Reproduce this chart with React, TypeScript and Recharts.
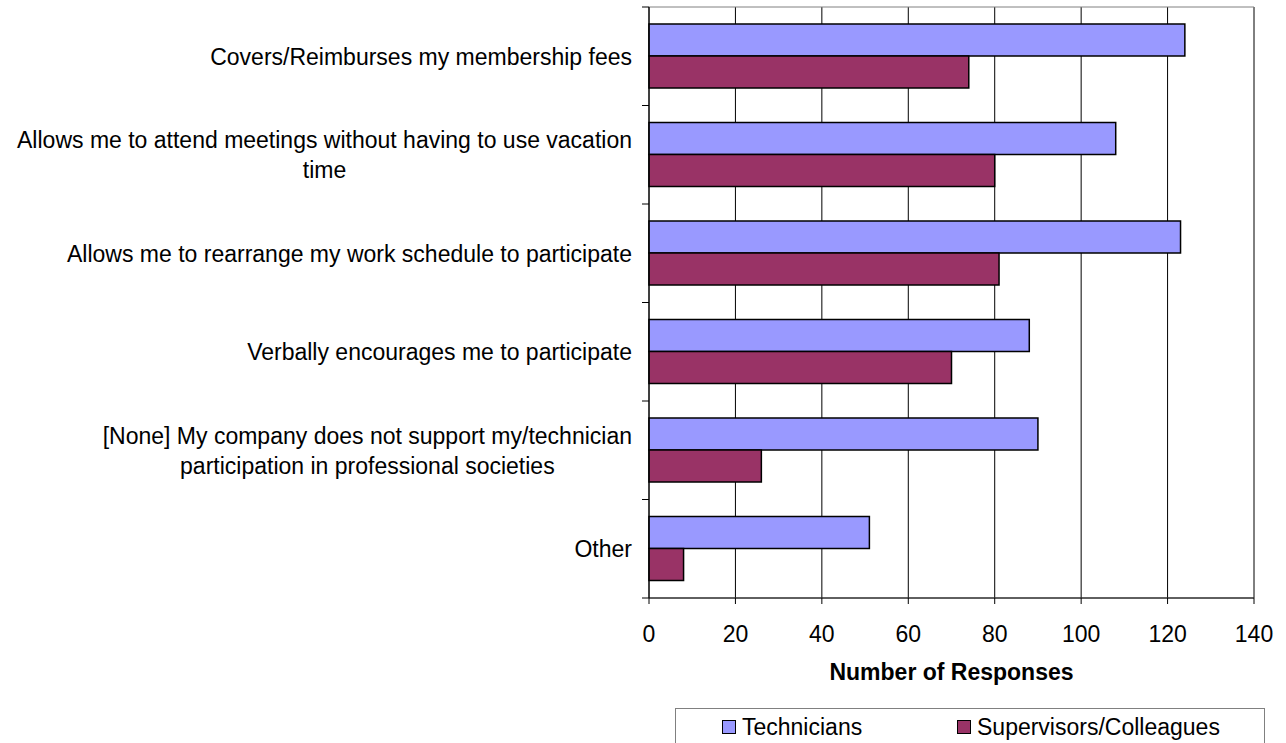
import { Bar, BarChart, CartesianGrid, Legend, ReferenceArea, XAxis, YAxis } from 'recharts';

const categories = [
  'Covers/Reimburses my membership fees',
  'Allows me to attend meetings without having to use vacation time',
  'Allows me to rearrange my work schedule to participate',
  'Verbally encourages me to participate',
  '[None] My company does not support my/technician participation in professional societies',
  'Other',
];
const technicians = [124, 108, 123, 88, 90, 51];
const supervisors = [74, 80, 81, 70, 26, 8];
const xTicks = [0, 20, 40, 60, 80, 100, 120, 140];

const data = categories.map((name, i) => ({
  name,
  technicians: technicians[i],
  supervisors: supervisors[i],
}));

const FONT = '"Liberation Sans", Arial, sans-serif';
const FONT_SIZE = 23;
const W = 1286;
const H = 743;
const MARGIN = { top: 7, right: 32, bottom: 0, left: 0 };
const X_AXIS_H = 145;
const Y_AXIS_W = 649;
const BAND = (H - MARGIN.top - MARGIN.bottom - X_AXIS_H) / categories.length;

let ctx: CanvasRenderingContext2D | null = null;
function measure(text: string) {
  if (!ctx) ctx = document.createElement('canvas').getContext('2d');
  if (!ctx) return text.length * FONT_SIZE * 0.5;
  ctx.font = `${FONT_SIZE}px ${FONT}`;
  return ctx.measureText(text).width;
}

function wrap(text: string, maxW: number) {
  const words = text.split(' ');
  const lines: string[] = [];
  let cur = '';
  for (const w of words) {
    const next = cur ? cur + ' ' + w : w;
    if (cur && measure(next) > maxW) {
      lines.push(cur);
      cur = w;
    } else cur = next;
  }
  if (cur) lines.push(cur);
  return lines;
}

function CategoryTick(props: any) {
  const { x, y, payload, index } = props;
  const lines = wrap(String(payload.value), 626);
  const widest = Math.max(...lines.map(measure));
  const right = x - 9;
  const cx = right - widest / 2;
  const lh = 30;
  const top = y - ((lines.length - 1) * lh) / 2;
  return (
    <g>
      <line x1={x + 1} x2={x + 8} y1={y - BAND / 2} y2={y - BAND / 2} stroke="#000" />
      {index === categories.length - 1 && (
        <line x1={x + 1} x2={x + 8} y1={y + BAND / 2} y2={y + BAND / 2} stroke="#000" />
      )}
      <text textAnchor="middle" fontFamily={FONT} fontSize={FONT_SIZE} fill="#000">
        {lines.map((l, i) => (
          <tspan key={i} x={cx} y={top + i * lh} dy="0.36em">
            {l}
          </tspan>
        ))}
      </text>
    </g>
  );
}

function LegendBox() {
  const items = [
    { label: 'Technicians', color: '#9999FF', width: 235 },
    { label: 'Supervisors/Colleagues', color: '#993366', width: 300 },
  ];
  return (
    <div
      style={{
        border: '1px solid #808080',
        height: 50,
        boxSizing: 'border-box',
        paddingLeft: 46,
        display: 'flex',
        alignItems: 'flex-start',
        fontFamily: FONT,
        fontSize: FONT_SIZE,
        color: '#000',
        background: '#fff',
      }}
    >
      {items.map((it) => (
        <div
          key={it.label}
          style={{ width: it.width, height: 36, display: 'flex', alignItems: 'center', whiteSpace: 'nowrap' }}
        >
          <span
            style={{
              display: 'inline-block',
              width: 12,
              height: 12,
              background: it.color,
              border: '1.5px solid #000',
              marginRight: 6,
              flexShrink: 0,
            }}
          />
          {it.label}
        </div>
      ))}
    </div>
  );
}

export default function App() {
  return (
    <div style={{ position: 'absolute', left: 0, top: 0, width: W, height: H, overflow: 'hidden', background: '#fff' }}>
      <BarChart
        width={W}
        height={H}
        data={data}
        layout="vertical"
        margin={MARGIN}
        barSize={32}
        barGap={0}
      >
        <CartesianGrid horizontal={false} stroke="#000" strokeWidth={1} />
        <ReferenceArea x1={0} x2={140} stroke="#808080" fill="none" ifOverflow="visible" />
        <XAxis
          type="number"
          domain={[0, 140]}
          ticks={xTicks}
          interval={0}
          height={X_AXIS_H}
          axisLine={{ stroke: '#000' }}
          tickLine={{ stroke: '#000' }}
          tickSize={6}
          tickMargin={22}
          tick={{ fill: '#000', fontSize: FONT_SIZE, fontFamily: FONT }}
          label={{
            value: 'Number of Responses',
            position: 'insideBottom',
            offset: 63,
            fill: '#000',
            fontSize: FONT_SIZE,
            fontWeight: 'bold',
            fontFamily: FONT,
          }}
        />
        <YAxis
          type="category"
          dataKey="name"
          width={Y_AXIS_W}
          interval={0}
          axisLine={{ stroke: '#000' }}
          tickLine={false}
          tick={<CategoryTick />}
        />
        <Legend
          layout="horizontal"
          align="center"
          verticalAlign="middle"
          content={<LegendBox />}
          wrapperStyle={{ position: 'absolute', left: 675, top: 708, width: 590 }}
        />
        <Bar
          dataKey="technicians"
          name="Technicians"
          fill="#9999FF"
          stroke="#000"
          strokeWidth={1.5}
          isAnimationActive={false}
        />
        <Bar
          dataKey="supervisors"
          name="Supervisors/Colleagues"
          fill="#993366"
          stroke="#000"
          strokeWidth={1.5}
          isAnimationActive={false}
        />
      </BarChart>
    </div>
  );
}
